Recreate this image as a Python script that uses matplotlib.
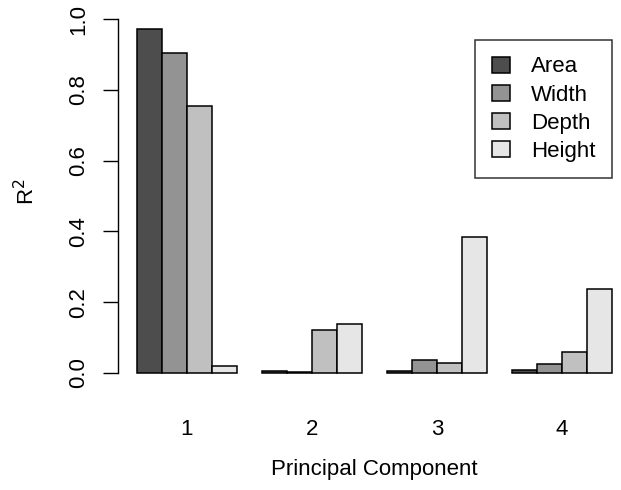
import numpy as np
import matplotlib.pyplot as plt

plt.rcParams['font.family'] = ['Liberation Sans', 'DejaVu Sans']

components = ['1', '2', '3', '4']
series = ['Area', 'Width', 'Depth', 'Height']
area = [0.972, 0.005, 0.004, 0.008]
width = [0.904, 0.001, 0.037, 0.025]
depth = [0.754, 0.121, 0.027, 0.059]
height = [0.020, 0.137, 0.384, 0.237]
colors = ['#4D4D4D', '#939393', '#C0C0C0', '#E6E6E6']

values = [area, width, depth, height]

fig = plt.figure(figsize=(6.21, 4.90), dpi=100)
ax = fig.add_axes([118 / 621, 1 - 387 / 490, 1 - 118 / 621, 382 / 490])

# R style beside barplot: bar width 1, one bar gap between groups
for i, (name, vals) in enumerate(zip(series, values)):
    x = np.arange(len(components)) * 5 + 1 + i
    ax.bar(x, vals, width=1, align='edge', color=colors[i],
           edgecolor='black', linewidth=1.1, label=name)

ax.set_xlim(0.24, 20.36)
ax.set_ylim(-0.04, 1.04)

for side in ['top', 'right', 'bottom']:
    ax.spines[side].set_visible(False)
ax.spines['left'].set_bounds(0, 1)
ax.spines['left'].set_linewidth(1.0)

ax.set_yticks(np.arange(0, 1.01, 0.2))
ax.set_yticklabels(['%.1f' % v for v in np.arange(0, 1.01, 0.2)],
                   rotation=90, va='center', fontsize=16)
ax.tick_params(axis='y', length=11, width=1.0, pad=10)

ax.set_xticks(np.arange(len(components)) * 5 + 3)
ax.set_xticklabels(components, fontsize=16)
ax.tick_params(axis='x', length=0, pad=23)

fig.text(374 / 621, 1 - 469 / 490, 'Principal Component', ha='center',
         va='center', fontsize=16)
fig.text(27 / 621, 1 - 192 / 490, r'R$^2$', ha='center', va='center',
         rotation=90, fontsize=16)

leg = ax.legend(loc='upper right', bbox_to_anchor=((612 - 118) / 503, (387 - 40) / 382),
                fontsize=16, frameon=True, fancybox=False, handlelength=0.82,
                handleheight=0.73, handletextpad=0.95, labelspacing=0.32,
                borderpad=0.74, borderaxespad=0)
leg.get_frame().set_edgecolor('black')
leg.get_frame().set_linewidth(1.1)

fig.savefig('out.png', dpi=100)
